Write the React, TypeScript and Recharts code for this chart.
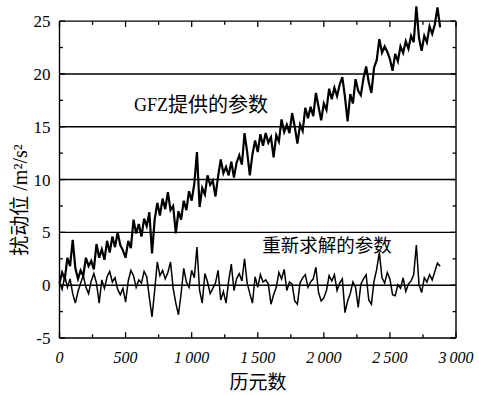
import { LineChart, Line, XAxis, YAxis, ReferenceLine, ReferenceDot } from "recharts"

// epochs sampled every 20 from 0 to 2880
const STEP = 20
const gfzValues = [
  0.2, 1.2, 0.6, 2.6, 1.8, 4.3, 1.6, 0.6, 1.4, 0.9, 2.6, 1.8, 2.3, 1.5, 3.9, 2.6, 3.4, 2.4, 4.2, 3.1,
  4.6, 3.6, 5.0, 3.8, 3.3, 2.6, 4.2, 3.5, 6.2, 4.9, 5.8, 4.6, 6.3, 5.6, 6.9, 3.0, 6.2, 7.8, 6.6, 8.2,
  7.2, 8.8, 7.1, 7.5, 4.9, 7.0, 6.2, 8.0, 7.1, 8.9, 8.0, 9.6, 12.6, 7.4, 9.2, 8.6, 10.4, 9.5, 9.9, 8.4,
  10.3, 11.9, 10.6, 11.2, 10.4, 11.7, 10.2, 11.6, 12.3, 11.4, 14.4, 12.6, 10.4, 12.4, 13.7, 12.6, 14.3, 13.2, 14.4, 13.5,
  14.0, 12.1, 14.2, 13.6, 15.7, 14.5, 15.2, 14.4, 16.3, 15.0, 13.4, 15.2, 14.6, 16.8, 15.8, 16.9, 16.0, 18.2, 16.9, 15.6,
  17.2, 16.6, 18.6, 17.6, 18.7, 17.9, 19.0, 19.7, 17.8, 15.5, 18.1, 17.2, 19.5, 18.4, 18.0, 19.6, 20.7, 19.2, 18.2, 20.6,
  21.3, 23.3, 22.0, 22.6, 22.1, 21.4, 20.3, 21.9, 21.2, 22.6, 22.0, 23.1, 22.4, 23.6, 23.0, 26.4, 23.4, 22.2, 23.6, 23.0,
  24.5, 23.8, 24.7, 26.3, 24.4,
]
const resolvedValues = [
  0.3, -0.4, 0.9, -0.2, 0.6, -0.8, -1.7, -0.6, 0.2, 0.9, -0.2, -0.8, 0.4, 1.1, 0.2, -1.7, 0.5, -0.3, 0.8, 1.3,
  0.3, 0.7, -0.4, -0.9, -0.3, -1.6, 0.4, 1.4, 0.9, -0.2, 0.5, 0.2, 1.3, 0.8, -1.2, -3.0, -0.5, 2.2, 0.9, 1.4,
  0.6, 1.2, 2.2, -0.3, -1.7, -2.8, -0.8, 1.6, 0.3, -0.2, 1.4, 0.7, 3.6, -0.5, -1.7, 1.1, 0.3, -0.8, -0.3, 0.2,
  1.4, -1.4, -0.6, -1.7, 0.4, 2.0, -0.5, 0.6, 1.1, 0.4, 2.5, 0.2, -0.8, -1.7, 0.8, -0.2, 1.0, 0.3, 0.5, 0.1,
  -1.8, -0.9, -0.2, 1.2, 0.6, 1.5, -0.5, 0.3, 0.1, -1.5, -1.8, 0.2, 0.7, 1.0, -0.2, 0.3, 0.6, 1.7, -0.7, -1.5,
  -1.2, -0.5, 0.9, 0.4, 1.0, -0.5, 0.2, 0.6, -2.6, -1.5, -0.8, 0.3, -0.2, -2.1, 0.1, 0.6, 1.0, -1.4, -1.8, 0.4,
  1.5, 3.1, 0.7, 0.2, 1.2, 0.6, -0.9, -1.0, 0.05, -0.3, 0.7, -0.6, 0.1, 0.4, 1.0, 3.8, 0.05, -0.7, 0.7, 0.3,
  1.0, 0.5, 1.3, 2.1, 1.8,
]
const epochs = gfzValues.map((_, i) => i * STEP)

const xTicks = [0, 500, 1000, 1500, 2000, 2500, 3000]
const xTickLabels = ["0", "500", "1\u2009000", "1\u2009500", "2\u2009000", "2\u2009500", "3\u2009000"]
const xMinorTicks = [250, 750, 1250, 1750, 2250, 2750]
const yTicks = [-5, 0, 5, 10, 15, 20, 25]
const yMinorTicks = [-2.5, 2.5, 7.5, 12.5, 17.5, 22.5]
const gridValues = [0, 5, 10, 15, 20, 25]

const data = epochs.map((epoch, i) => ({ epoch, gfz: gfzValues[i], resolved: resolvedValues[i] }))

const serif = '"Liberation Serif", "DejaVu Serif", serif'
const cjk = '"Liberation Serif", "Noto Sans CJK SC", serif'

export default function App() {
  return (
    <div style={{ position: "absolute", left: 0, top: 0, width: 479, height: 395, background: "#fff" }}>
      <LineChart width={479} height={395} data={data} margin={{ top: 0, right: 23, bottom: 27, left: 0 }}>
        <XAxis
          dataKey="epoch"
          type="number"
          domain={[0, 3000]}
          ticks={xTicks}
          interval={0}
          tickFormatter={(v: number) => xTickLabels[xTicks.indexOf(v)] ?? ""}
          tickLine={false}
          tickSize={0}
          tickMargin={14}
          height={30}
          axisLine={{ stroke: "#000", strokeWidth: 1.4 }}
          tick={{ fill: "#000", fontSize: 16, fontStyle: "italic", style: { fontFamily: serif } }}
        />
        <YAxis
          type="number"
          domain={[-5, 27]}
          ticks={yTicks}
          interval={0}
          width={59.5}
          axisLine={false}
          tickLine={false}
          tickSize={0}
          tickMargin={9}
          tick={{ fill: "#000", fontSize: 17, style: { fontFamily: serif } }}
        />
        {gridValues.map((v) => (
          <ReferenceLine key={"g" + v} y={v} stroke="#000" strokeWidth={1.4} />
        ))}
        <ReferenceLine segment={[{ x: 0, y: -5 }, { x: 0, y: 25 }]} stroke="#000" strokeWidth={1.4} />
        <ReferenceLine segment={[{ x: 3000, y: -5 }, { x: 3000, y: 25 }]} stroke="#000" strokeWidth={1.4} />
        {[...xTicks, ...xMinorTicks].map((t) => {
          const len = t % 500 === 0 ? 0.55 : 0.35
          return [
            <ReferenceLine key={"b" + t} segment={[{ x: t, y: -5 }, { x: t, y: -5 + len }]} stroke="#000" strokeWidth={1.3} />,
            <ReferenceLine key={"t" + t} segment={[{ x: t, y: 25 }, { x: t, y: 25 - len }]} stroke="#000" strokeWidth={1.3} />,
          ]
        })}
        {[...yTicks, ...yMinorTicks].map((v) => {
          const len = v % 5 === 0 ? 42 : 26
          return [
            <ReferenceLine key={"l" + v} segment={[{ x: 0, y: v }, { x: len, y: v }]} stroke="#000" strokeWidth={1.3} />,
            <ReferenceLine key={"r" + v} segment={[{ x: 3000, y: v }, { x: 3000 - len, y: v }]} stroke="#000" strokeWidth={1.3} />,
          ]
        })}
        <Line dataKey="gfz" stroke="#000" strokeWidth={2.2} dot={false} isAnimationActive={false} />
        <Line dataKey="resolved" stroke="#000" strokeWidth={1.5} dot={false} isAnimationActive={false} />
        <ReferenceDot
          x={1071}
          y={17.1}
          r={0}
          fill="none"
          stroke="none"
          label={{
            content: (p: any) => (
              <text x={p.viewBox.x} y={p.viewBox.y} textAnchor="middle" dominantBaseline="central" fill="#000">
                <tspan style={{ fontFamily: serif }} fontSize={18}>GFZ</tspan>
                <tspan style={{ fontFamily: cjk }} fontSize={20}>提供的参数</tspan>
              </text>
            ),
          }}
        />
        <ReferenceDot
          x={2024}
          y={3.75}
          r={0}
          fill="none"
          stroke="none"
          label={{
            content: (p: any) => (
              <text x={p.viewBox.x} y={p.viewBox.y} textAnchor="middle" dominantBaseline="central" fill="#000" style={{ fontFamily: cjk }} fontSize={18.5}>
                重新求解的参数
              </text>
            ),
          }}
        />
      </LineChart>
      <div
        style={{
          position: "absolute",
          left: 258,
          top: 380,
          transform: "translate(-50%, -50%)",
          fontFamily: cjk,
          fontSize: 19,
          whiteSpace: "nowrap",
        }}
      >
        历元数
      </div>
      <div
        style={{
          position: "absolute",
          left: 18,
          top: 200,
          transform: "translate(-50%, -50%) rotate(-90deg)",
          fontFamily: cjk,
          fontSize: 20,
          whiteSpace: "nowrap",
        }}
      >
        扰动位 /m²/s²
      </div>
    </div>
  )
}
